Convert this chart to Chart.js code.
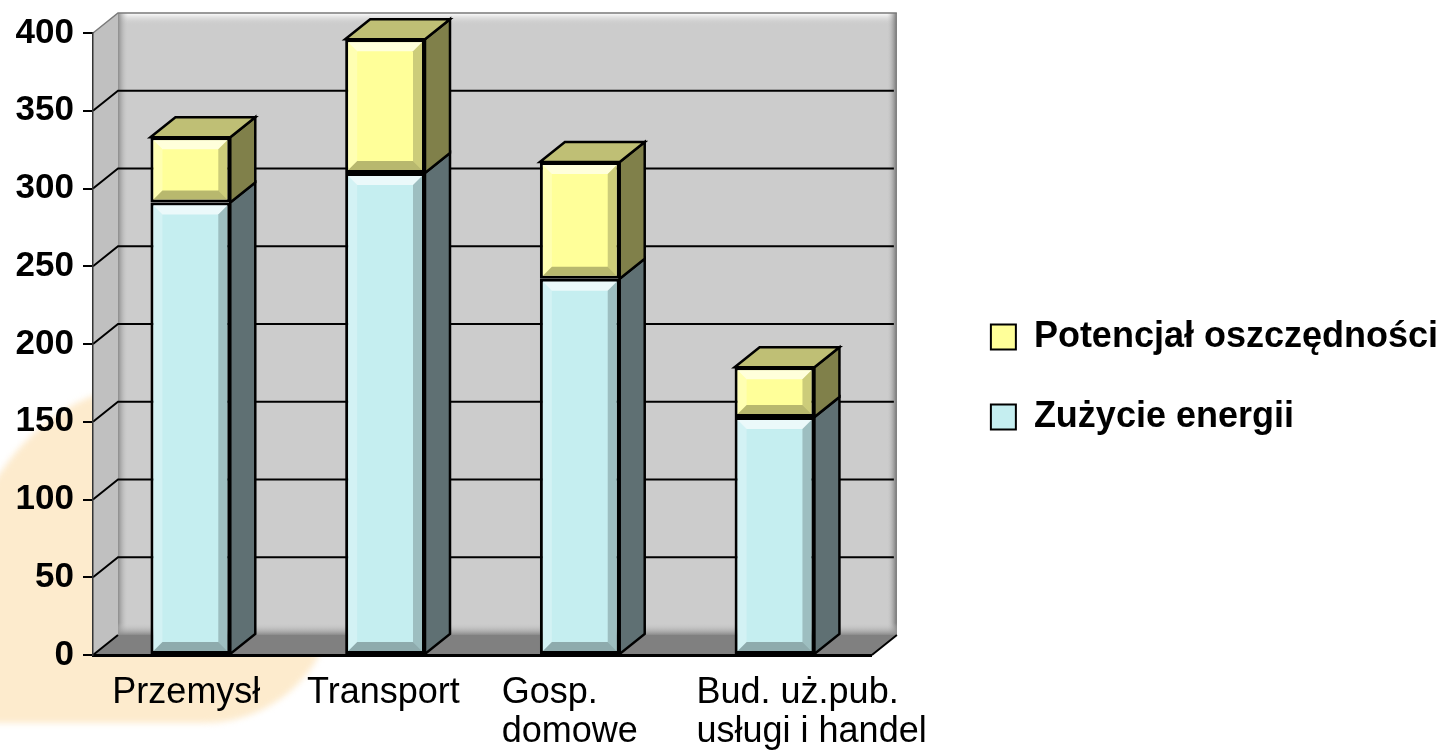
<!DOCTYPE html>
<html>
<head>
<meta charset="utf-8">
<script src="https://cdn.jsdelivr.net/npm/chart.js@4.4.1/dist/chart.umd.min.js"></script>
<style>
html, body { margin: 0; padding: 0; background: #fff; overflow: hidden; }
#wrap { position: relative; width: 1448px; height: 754px; }
#blob {
    position: absolute; left: -50px; top: 385px; width: 385px; height: 338px;
    border-radius: 200px 130px 130px 40px / 260px 130px 130px 40px;
    background: #fdebcd; filter: blur(3px);
}
canvas { position: absolute; left: 0; top: 0; }
</style>
</head>
<body>
<div id="wrap">
    <div id="blob"></div>
    <canvas id="chart" width="1448" height="754"></canvas>
</div>
<script>
//<![CDATA[

let categories = ['Przemysł', 'Transport', ['Gosp.', 'domowe'], ['Bud. uż.pub.', 'usługi i handel']];
let energyUse = [291, 310, 242, 153];
let savingPotential = [42, 86, 75, 32];
let seriesNames = ['Zużycie energii', 'Potencjał oszczędności'];
let yMin = 0;
let yMax = 400;
let yStep = 50;

// depth of the fake 3d look
const depthX = 25;
const depthY = 20;

function poly(ctx, pts, fill, stroke, lw) {
    ctx.beginPath();
    ctx.moveTo(pts[0][0], pts[0][1]);
    for (let i = 1; i < pts.length; i++) {
        ctx.lineTo(pts[i][0], pts[i][1]);
    }
    ctx.closePath();
    if (fill) {
        ctx.fillStyle = fill;
        ctx.fill();
    }
    if (stroke) {
        ctx.strokeStyle = stroke;
        ctx.lineWidth = lw || 1;
        ctx.stroke();
    }
}

function bevel(ctx, l, t, r, b, s) {
    s = Math.min(s, (b - t) / 2, (r - l) / 2);
    poly(ctx, [[l, t], [r, t], [r - s, t + s], [l + s, t + s]], 'rgba(255,255,255,0.65)');
    poly(ctx, [[l, t], [l + s, t + s], [l + s, b - s], [l, b]], 'rgba(255,255,255,0.25)');
    poly(ctx, [[r, t], [r, b], [r - s, b - s], [r - s, t + s]], 'rgba(0,0,0,0.2)');
    poly(ctx, [[l, b], [r, b], [r - s, b - s], [l + s, b - s]], 'rgba(0,0,0,0.28)');
}

const threeD = {
    id: 'threeD',
    beforeDraw(chart) {
        const ctx = chart.ctx;
        const a = chart.chartArea;
        const y = chart.scales.y;
        const top = y.getPixelForValue(yMax);
        const bottom = y.getPixelForValue(yMin);
        const wl = a.left + depthX, wr = a.right + depthX;
        const wt = top - depthY, wb = bottom - depthY;
        ctx.save();

        // back wall
        ctx.fillStyle = '#cccccc';
        ctx.fillRect(wl, wt, wr - wl, wb - wt);
        let g = ctx.createLinearGradient(0, wt, 0, wt + 12);
        g.addColorStop(0, '#ffffff');
        g.addColorStop(1, 'rgba(204,204,204,0)');
        ctx.fillStyle = g;
        ctx.fillRect(wl, wt, wr - wl, 12);
        g = ctx.createLinearGradient(wl, 0, wl + 10, 0);
        g.addColorStop(0, '#8c8c8c');
        g.addColorStop(1, 'rgba(204,204,204,0)');
        ctx.fillStyle = g;
        ctx.fillRect(wl, wt, 10, wb - wt);
        g = ctx.createLinearGradient(wr - 10, 0, wr, 0);
        g.addColorStop(0, 'rgba(204,204,204,0)');
        g.addColorStop(1, '#707070');
        ctx.fillStyle = g;
        ctx.fillRect(wr - 10, wt, 10, wb - wt);
        g = ctx.createLinearGradient(0, wb - 12, 0, wb);
        g.addColorStop(0, 'rgba(204,204,204,0)');
        g.addColorStop(1, '#8a8a8a');
        ctx.fillStyle = g;
        ctx.fillRect(wl, wb - 12, wr - wl, 12);

        // left wall and floor
        poly(ctx, [[a.left, bottom], [a.left, top], [wl, wt], [wl, wb]], '#c0c0c0');
        poly(ctx, [[a.left, bottom], [a.right, bottom], [wr, wb], [wl, wb]], '#808080');
        ctx.beginPath();
        ctx.moveTo(a.left, bottom);
        ctx.lineTo(wl, wb);
        ctx.moveTo(a.right, bottom);
        ctx.lineTo(wr, wb);
        ctx.strokeStyle = '#000';
        ctx.lineWidth = 2;
        ctx.stroke();
        ctx.beginPath();
        ctx.moveTo(a.left, top);
        ctx.lineTo(wl, wt);
        ctx.lineTo(wr, wt);
        ctx.strokeStyle = '#7a7a7a';
        ctx.lineWidth = 1.5;
        ctx.stroke();

        // grid lines
        ctx.beginPath();
        for (let v = yMin + yStep; v < yMax; v += yStep) {
            const py = y.getPixelForValue(v);
            ctx.moveTo(a.left, py);
            ctx.lineTo(wl, py - depthY);
            ctx.lineTo(wr - 3, py - depthY);
        }
        ctx.strokeStyle = '#000';
        ctx.lineWidth = 2;
        ctx.stroke();
        ctx.restore();
    },
    afterDatasetsDraw(chart) {
        const ctx = chart.ctx;
        const last = chart.data.datasets.length - 1;
        ctx.save();
        chart.data.datasets.forEach((ds, di) => {
            const meta = chart.getDatasetMeta(di);
            meta.data.forEach((el) => {
                const p = el.getProps(['x', 'y', 'base', 'width'], true);
                const l = p.x - p.width / 2, r = p.x + p.width / 2;
                const t = Math.min(p.y, p.base), b = Math.max(p.y, p.base);
                const bw = ds.borderWidth;
                bevel(ctx, l + bw, t + bw, r - bw, b - bw, 9);
                poly(ctx, [[r, t], [r + depthX, t - depthY], [r + depthX, b - depthY], [r, b]],
                    ds.sideColor, '#000', 2.5);
                if (di === last) {
                    poly(ctx, [[l, t], [l + depthX, t - depthY], [r + depthX, t - depthY], [r, t]],
                        ds.topColor, '#000', 2.5);
                }
            });
        });
        ctx.restore();
    }
};

Chart.defaults.font.family = '"Liberation Sans", Arial, sans-serif';
Chart.defaults.color = '#000';

const chart = new Chart(document.getElementById('chart'), {
    type: 'bar',
    data: {
        labels: categories,
        datasets: [
            {
                label: seriesNames[0],
                data: energyUse,
                backgroundColor: '#c5eef0',
                sideColor: '#5f7073',
                topColor: '#94b3b4',
                borderColor: '#000',
                borderWidth: 3,
                borderSkipped: false,
                barPercentage: 0.41,
                categoryPercentage: 1
            },
            {
                label: seriesNames[1],
                data: savingPotential,
                backgroundColor: '#ffff99',
                sideColor: '#80804a',
                topColor: '#bfbf75',
                borderColor: '#000',
                borderWidth: 3,
                borderSkipped: false,
                barPercentage: 0.41,
                categoryPercentage: 1
            }
        ]
    },
    options: {
        responsive: false,
        devicePixelRatio: 1,
        animation: false,
        layout: {
            padding: 0
        },
        plugins: {
            tooltip: { enabled: false },
            legend: {
                position: 'right',
                reverse: true,
                maxWidth: 560,
                labels: {
                    boxWidth: 25,
                    boxHeight: 25,
                    padding: 44,
                    color: '#000',
                    font: { size: 36, weight: 'bold' },
                    generateLabels: function(chart) {
                        const items = Chart.defaults.plugins.legend.labels.generateLabels(chart);
                        items.forEach((it) => { it.lineWidth = 2; });
                        return items;
                    }
                }
            }
        },
        scales: {
            x: {
                stacked: true,
                grid: { drawOnChartArea: false, drawTicks: false },
                border: { color: '#000', width: 3 },
                ticks: {
                    color: '#000',
                    align: 'start',
                    labelOffset: -78,
                    padding: 18,
                    maxRotation: 0,
                    autoSkip: false,
                    font: { size: 36, lineHeight: 1.1 }
                },
                afterFit: function(scale) {
                    scale.height = 99;
                }
            },
            y: {
                stacked: true,
                min: yMin,
                max: yMax,
                ticks: {
                    stepSize: yStep,
                    color: '#000',
                    padding: 9,
                    font: { size: 35, weight: 'bold' }
                },
                grid: { drawOnChartArea: false, color: '#000', lineWidth: 2, tickLength: 10 },
                border: { color: '#333', width: 1.5 },
                afterFit: function(scale) {
                    scale.width = 93;
                }
            },
            rightSpace: {
                type: 'linear',
                position: 'right',
                grid: { display: false, drawTicks: false },
                border: { display: false },
                ticks: { display: false },
                afterFit: function(scale) {
                    scale.width = 75;
                }
            },
            topSpace: {
                type: 'linear',
                position: 'top',
                grid: { display: false, drawTicks: false },
                border: { display: false },
                ticks: { display: false },
                afterFit: function(scale) {
                    scale.height = 33;
                }
            }
        }
    },
    plugins: [threeD]
});

// ]]>
</script>
</body>
</html>
